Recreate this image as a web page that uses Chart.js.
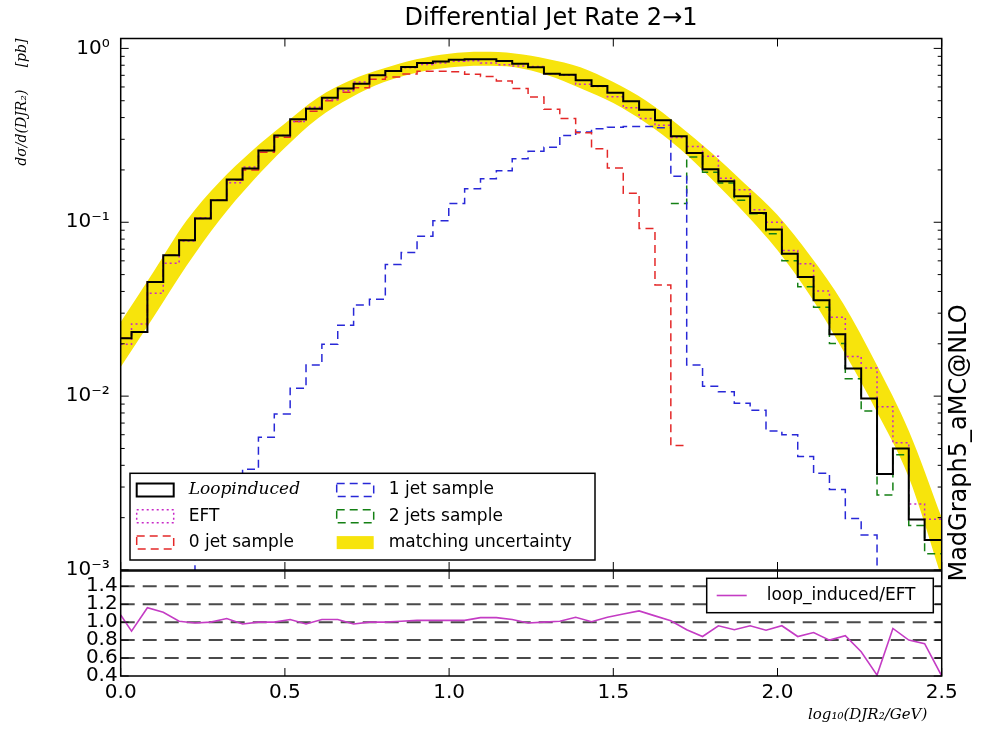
<!DOCTYPE html>
<html lang="en">
<head>
<meta charset="UTF-8">
<meta name="viewport" content="width=device-width, initial-scale=1.0">
<title>Differential Jet Rate 2→1</title>
<script src="https://cdn.jsdelivr.net/npm/chart.js@4/dist/chart.umd.min.js"></script>
<style>
    html, body { margin: 0; padding: 0; background: #fff; }
    body { font-family: "DejaVu Sans", sans-serif; }
    #page { position: relative; width: 985px; height: 738px; overflow: hidden; }
    #main-box { position: absolute; left: 0; top: 0; width: 985px; height: 600px; }
    #ratio-box { position: absolute; left: 0; top: 570px; width: 985px; height: 168px; }
    #title { position: absolute; left: 351px; top: 3px; width: 400px; text-align: center; font-size: 24px; line-height: 28px; white-space: nowrap; }
    #xlabel { position: absolute; left: 808px; top: 705px; font: italic 15px "DejaVu Serif", serif; white-space: nowrap; }
    #side { position: absolute; left: 808px; top: 429px; width: 300px; text-align: center; font-size: 24px; line-height: 28px; transform: rotate(-90deg); white-space: nowrap; }
</style>
</head>
<body>
<div id="page">
    <div id="main-box"><canvas id="main-chart"></canvas></div>
    <div id="ratio-box"><canvas id="ratio-chart"></canvas></div>
    <div id="title">Differential Jet Rate 2→1</div>
    <div id="xlabel">log₁₀(DJR₂/GeV)</div>
    <div id="side">MadGraph5_aMC@NLO</div>
</div>

<script>
    // bin edges of the histograms (x = log10(DJR2/GeV))
    const binEdges = [0.0, 0.033, 0.0813, 0.1296, 0.1779, 0.2262, 0.2745, 0.3228, 0.3711, 0.4194,
        0.4677, 0.516, 0.5643, 0.6126, 0.6609, 0.7092, 0.7575, 0.8058, 0.8541, 0.9024,
        0.9507, 0.999, 1.0473, 1.0956, 1.1439, 1.1922, 1.2405, 1.2888, 1.3371, 1.3854,
        1.4337, 1.482, 1.5303, 1.5786, 1.6269, 1.6752, 1.7235, 1.7718, 1.8201, 1.8684,
        1.9167, 1.965, 2.0133, 2.0616, 2.1099, 2.1582, 2.2065, 2.2548, 2.3031, 2.3514,
        2.3997, 2.448, 2.5];

    const loopInduced = [0.0215, 0.0234, 0.0454, 0.0646, 0.0788, 0.105, 0.134, 0.176, 0.204, 0.259,
        0.316, 0.391, 0.45, 0.521, 0.587, 0.627, 0.70, 0.741, 0.782, 0.823,
        0.842, 0.861, 0.865, 0.865, 0.845, 0.817, 0.78, 0.715, 0.706, 0.655,
        0.607, 0.556, 0.496, 0.444, 0.386, 0.312, 0.25, 0.202, 0.172, 0.141,
        0.113, 0.091, 0.066, 0.0485, 0.0356, 0.0227, 0.0144, 0.0097, 0.00356, 0.005,
        0.00195, 0.00149];

    const eft = [0.0199, 0.026, 0.0391, 0.0582, 0.078, 0.106, 0.134, 0.169, 0.208, 0.259,
        0.316, 0.38, 0.459, 0.506, 0.57, 0.64, 0.70, 0.741, 0.774, 0.807,
        0.825, 0.844, 0.848, 0.824, 0.805, 0.793, 0.788, 0.715, 0.70, 0.621,
        0.604, 0.527, 0.455, 0.395, 0.361, 0.307, 0.273, 0.240, 0.179, 0.154,
        0.118, 0.100, 0.0688, 0.0577, 0.0402, 0.0284, 0.0169, 0.0145, 0.0087, 0.0054,
        0.0024, 0.00196];

    const jet0 = [0.0215, 0.0234, 0.0454, 0.0646, 0.0788, 0.105, 0.134, 0.175, 0.200, 0.253,
        0.308, 0.38, 0.435, 0.50, 0.56, 0.593, 0.664, 0.685, 0.713, 0.738,
        0.738, 0.733, 0.71, 0.69, 0.65, 0.587, 0.525, 0.446, 0.395, 0.327,
        0.265, 0.205, 0.147, 0.092, 0.0435, 0.0052, null, null, null, null,
        null, null, null, null, null, null, null, null, null, null,
        null, null];

    const jet1 = [null, null, null, null, 0.0005, 0.0012, 0.0018, 0.0026, 0.0038, 0.0058,
        0.0079, 0.0111, 0.0151, 0.0199, 0.0256, 0.0334, 0.0361, 0.0572, 0.067, 0.083,
        0.102, 0.128, 0.156, 0.178, 0.198, 0.232, 0.256, 0.27, 0.316, 0.33,
        0.345, 0.352, 0.356, 0.356, 0.35, 0.184, 0.0151, 0.0114, 0.0106, 0.0091,
        0.0083, 0.0063, 0.006, 0.0045, 0.0036, 0.0029, 0.00198, 0.00159, 0.0005, null,
        null, null];

    const jet2 = [null, null, null, null, null, null, null, null, null, null,
        null, null, null, null, null, null, null, null, null, null,
        null, null, null, null, null, null, null, null, null, null,
        null, null, null, null, null, 0.128, 0.237, 0.194, 0.168, 0.134,
        0.112, 0.086, 0.06, 0.0426, 0.0325, 0.0201, 0.0126, 0.0082, 0.0027, 0.0046,
        0.0018, 0.00124];

    // matching uncertainty band
    const bandX = [0, 0.1, 0.2, 0.3, 0.4, 0.5, 0.6, 0.7, 0.8, 0.9, 1.0, 1.1, 1.2,
        1.3, 1.4, 1.5, 1.6, 1.7, 1.8, 1.9, 2.0, 2.1, 2.2, 2.3, 2.4, 2.5];
    const bandHi = [0.0267, 0.052, 0.102, 0.170, 0.258, 0.370, 0.52, 0.655, 0.765, 0.865, 0.932, 0.955, 0.935,
        0.87, 0.78, 0.64, 0.50, 0.36, 0.25, 0.167, 0.110, 0.064, 0.0341, 0.0154, 0.0063, 0.0020];
    const bandLo = [0.0147, 0.0285, 0.056, 0.1025, 0.171, 0.268, 0.395, 0.52, 0.638, 0.725, 0.776, 0.795, 0.78,
        0.70, 0.59, 0.485, 0.372, 0.267, 0.177, 0.113, 0.069, 0.0376, 0.0183, 0.0083, 0.0034, 0.0009];

    // loop_induced / EFT, one point per bin edge
    const ratioVals = [1.08, 0.90, 1.16, 1.11, 1.01, 0.99, 1.0, 1.04, 0.98, 1.0,
        1.0, 1.03, 0.98, 1.03, 1.03, 0.98, 1.0, 1.0, 1.01, 1.02,
        1.02, 1.02, 1.02, 1.05, 1.05, 1.03, 0.99, 1.0, 1.01, 1.055,
        1.005, 1.055, 1.09, 1.125, 1.07, 1.015, 0.915, 0.84, 0.96, 0.915,
        0.96, 0.91, 0.96, 0.84, 0.885, 0.80, 0.85, 0.67, 0.41, 0.93,
        0.80, 0.76, 0.40];

    const xTicks = [0, 0.5, 1.0, 1.5, 2.0, 2.5];
    const ratioTicks = [0.4, 0.6, 0.8, 1.0, 1.2, 1.4];
    const ratioRefLines = [0.6, 0.8, 1.0, 1.2, 1.4];
    const mainLegend = ['Loopinduced', 'EFT', '0 jet sample', '1 jet sample', '2 jets sample', 'matching uncertainty'];

    const bandColor = 'rgb(247,228,12)';

    Chart.defaults.font.family = '"DejaVu Sans", sans-serif';
    Chart.defaults.color = '#000';

    function stepPoints(vals) {
        const pts = [];
        vals.forEach((v, i) => {
            pts.push({x: binEdges[i], y: v}, {x: binEdges[i + 1], y: v});
        });
        return pts;
    }

    const sup = {'0': '⁰', '1': '¹', '2': '²', '3': '³', '4': '⁴', '-': '⁻'};
    function isPower(v) {
        const l = Math.log10(v);
        return Math.abs(l - Math.round(l)) < 1e-6;
    }
    function powerLabel(v) {
        if (!isPower(v)) return '';
        return '10' + String(Math.round(Math.log10(v))).split('').map(c => sup[c]).join('');
    }

    // pin the axis sizes so both panels line up
    function fixWidth(s) {
        s.width = 120.7;
        s.paddingTop = 0;
        s.paddingBottom = 0;
    }

    // frame + inward ticks like matplotlib
    const frameTicks = {
        id: 'frameTicks',
        afterDraw(chart, args, opts) {
            const {ctx, chartArea: a} = chart;
            const xs = chart.scales.x, ys = chart.scales.y;
            ctx.save();
            ctx.strokeStyle = '#000';
            ctx.lineWidth = 1;
            ctx.beginPath();
            xTicks.forEach(v => {
                const px = xs.getPixelForValue(v);
                ctx.moveTo(px, a.bottom); ctx.lineTo(px, a.bottom - 8);
                ctx.moveTo(px, a.top); ctx.lineTo(px, a.top + 8);
            });
            const yVals = opts.kind === 'main'
                ? ys.ticks.map(t => t.value).filter(v => {
                    const m = v / Math.pow(10, Math.floor(Math.log10(v) + 1e-9));
                    return Math.abs(m - Math.round(m)) < 1e-6;
                })
                : ratioTicks;
            yVals.forEach(v => {
                const py = ys.getPixelForValue(v);
                if (py < a.top - 0.5 || py > a.bottom + 0.5) return;
                const len = (opts.kind === 'main' && !isPower(v)) ? 4 : 8;
                ctx.moveTo(a.left, py); ctx.lineTo(a.left + len, py);
                ctx.moveTo(a.right, py); ctx.lineTo(a.right - len, py);
            });
            ctx.stroke();
            ctx.lineWidth = 1.5;
            ctx.strokeRect(a.left, a.top, a.right - a.left, a.bottom - a.top);
            ctx.restore();
        }
    };

    // dashed reference lines in the ratio panel
    const refLines = {
        id: 'refLines',
        beforeDatasetsDraw(chart) {
            const {ctx, chartArea: a} = chart;
            const ys = chart.scales.y;
            ctx.save();
            ctx.strokeStyle = '#4a4a4a';
            ctx.lineWidth = 2;
            ctx.setLineDash([14, 8]);
            ratioRefLines.forEach(v => {
                const py = ys.getPixelForValue(v);
                ctx.beginPath();
                ctx.moveTo(a.left, py);
                ctx.lineTo(a.right, py);
                ctx.stroke();
            });
            ctx.restore();
        }
    };

    // boxed legends placed inside the plot area
    const boxLegend = {
        id: 'boxLegend',
        afterDraw(chart, args, opts) {
            const {ctx, chartArea: a} = chart;
            const ds = chart.data.datasets;
            ctx.save();
            ctx.textBaseline = 'middle';
            if (opts.kind === 'main') {
                const bx = a.left + 9.3, by = a.bottom - 96.7, bw = 465, bh = 86.7;
                ctx.fillStyle = '#fff';
                ctx.fillRect(bx, by, bw, bh);
                ctx.strokeStyle = '#000';
                ctx.lineWidth = 1.5;
                ctx.strokeRect(bx, by, bw, bh);
                mainLegend.forEach((name, i) => {
                    const d = ds.find(s => s.label === name);
                    const col = Math.floor(i / 3), row = i % 3;
                    const px = bx + (col ? 206.7 : 6.7), py = by + 16.7 + 26.3 * row;
                    if (d.legendFill) {
                        ctx.fillStyle = d.legendFill;
                        ctx.fillRect(px, py - 6.5, 37, 13);
                    } else {
                        ctx.strokeStyle = d.borderColor;
                        ctx.lineWidth = d.borderWidth;
                        ctx.setLineDash(d.borderDash || []);
                        ctx.strokeRect(px, py - 6.5, 37, 13);
                        ctx.setLineDash([]);
                    }
                    ctx.fillStyle = '#000';
                    ctx.font = d.legendFont || '17px "DejaVu Sans"';
                    ctx.fillText(name, px + 52, py);
                });
            } else {
                const d = ds[0];
                const bw = 226.6, bh = 34.4;
                const bx = a.right - 8.4 - bw, by = a.top + 7.3;
                ctx.fillStyle = '#fff';
                ctx.fillRect(bx, by, bw, bh);
                ctx.strokeStyle = '#000';
                ctx.lineWidth = 1.5;
                ctx.strokeRect(bx, by, bw, bh);
                ctx.strokeStyle = d.borderColor;
                ctx.lineWidth = d.borderWidth;
                ctx.beginPath();
                ctx.moveTo(bx + 10, by + bh / 2);
                ctx.lineTo(bx + 40, by + bh / 2);
                ctx.stroke();
                ctx.fillStyle = '#000';
                ctx.font = '17px "DejaVu Sans"';
                ctx.fillText(d.label, bx + 60, by + bh / 2);
            }
            ctx.restore();
        }
    };

    new Chart(document.getElementById('main-chart'), {
        type: 'line',
        data: {
            datasets: [
                {
                    label: 'matching uncertainty',
                    legendFill: bandColor,
                    data: bandX.map((x, i) => ({x: x, y: bandHi[i]})),
                    borderWidth: 0,
                    borderColor: 'rgba(0,0,0,0)',
                    backgroundColor: bandColor,
                    fill: '+1',
                    cubicInterpolationMode: 'monotone',
                    order: 10
                },
                {
                    label: 'band low',
                    data: bandX.map((x, i) => ({x: x, y: bandLo[i]})),
                    borderWidth: 0,
                    borderColor: 'rgba(0,0,0,0)',
                    fill: false,
                    cubicInterpolationMode: 'monotone',
                    order: 11
                },
                {
                    label: '2 jets sample',
                    data: stepPoints(jet2),
                    borderColor: 'rgb(20,128,20)',
                    borderWidth: 1.5,
                    borderDash: [8, 5],
                    order: 5
                },
                {
                    label: '1 jet sample',
                    data: stepPoints(jet1),
                    borderColor: 'rgb(40,40,215)',
                    borderWidth: 1.5,
                    borderDash: [8, 5],
                    order: 4
                },
                {
                    label: '0 jet sample',
                    data: stepPoints(jet0),
                    borderColor: 'rgb(228,40,40)',
                    borderWidth: 1.5,
                    borderDash: [8, 5],
                    order: 3
                },
                {
                    label: 'EFT',
                    data: stepPoints(eft),
                    borderColor: 'rgb(200,40,200)',
                    borderWidth: 1.5,
                    borderDash: [2, 3],
                    order: 2
                },
                {
                    label: 'Loopinduced',
                    legendFont: 'italic 17px "DejaVu Serif"',
                    data: stepPoints(loopInduced),
                    borderColor: '#000',
                    borderWidth: 2,
                    order: 1
                }
            ]
        },
        options: {
            responsive: true,
            maintainAspectRatio: false,
            animation: false,
            events: [],
            layout: {padding: {left: 0, right: 43.3, top: 38.5, bottom: 30}},
            elements: {point: {radius: 0}, line: {tension: 0}},
            plugins: {
                legend: {display: false},
                tooltip: {enabled: false},
                frameTicks: {kind: 'main'},
                boxLegend: {kind: 'main'}
            },
            scales: {
                x: {
                    type: 'linear', min: 0, max: 2.5,
                    grid: {display: false, drawTicks: false},
                    border: {display: false},
                    ticks: {display: false},
                    afterFit: s => { s.height = 0; }
                },
                y: {
                    type: 'logarithmic', min: 0.001, max: 1.14,
                    grid: {display: false, drawTicks: false},
                    border: {display: false},
                    ticks: {autoSkip: false, padding: 11, font: {size: 20}, callback: v => powerLabel(v)},
                    title: {
                        display: true,
                        text: 'dσ/d(DJR₂)     [pb]',
                        align: 'end',
                        font: {family: '"DejaVu Serif", serif', style: 'italic', size: 14},
                        padding: {top: 14, bottom: 0}
                    },
                    afterFit: fixWidth
                }
            }
        },
        plugins: [frameTicks, boxLegend]
    });

    new Chart(document.getElementById('ratio-chart'), {
        type: 'line',
        data: {
            datasets: [{
                label: 'loop_induced/EFT',
                data: binEdges.map((x, i) => ({x: x, y: ratioVals[i]})),
                borderColor: 'rgb(196,60,196)',
                borderWidth: 1.6
            }]
        },
        options: {
            responsive: true,
            maintainAspectRatio: false,
            animation: false,
            events: [],
            layout: {padding: {left: 0, right: 43.3, top: 1, bottom: 0}},
            elements: {point: {radius: 0}, line: {tension: 0}},
            plugins: {
                legend: {display: false},
                tooltip: {enabled: false},
                frameTicks: {kind: 'ratio'},
                boxLegend: {kind: 'ratio'}
            },
            scales: {
                x: {
                    type: 'linear', min: 0, max: 2.5,
                    grid: {display: false, drawTicks: false},
                    border: {display: false},
                    afterBuildTicks: s => { s.ticks = xTicks.map(v => ({value: v})); },
                    ticks: {autoSkip: false, maxRotation: 0, padding: 5, font: {size: 20}, callback: v => v.toFixed(1)},
                    afterFit: s => { s.height = 62; }
                },
                y: {
                    type: 'linear', min: 0.4, max: 1.57,
                    grid: {display: false, drawTicks: false},
                    border: {display: false},
                    afterBuildTicks: s => { s.ticks = ratioTicks.map(v => ({value: v})); },
                    ticks: {autoSkip: false, padding: 3, font: {size: 20}, callback: v => v.toFixed(1)},
                    afterFit: fixWidth
                }
            }
        },
        plugins: [refLines, frameTicks, boxLegend]
    });
</script>
</body>
</html>
